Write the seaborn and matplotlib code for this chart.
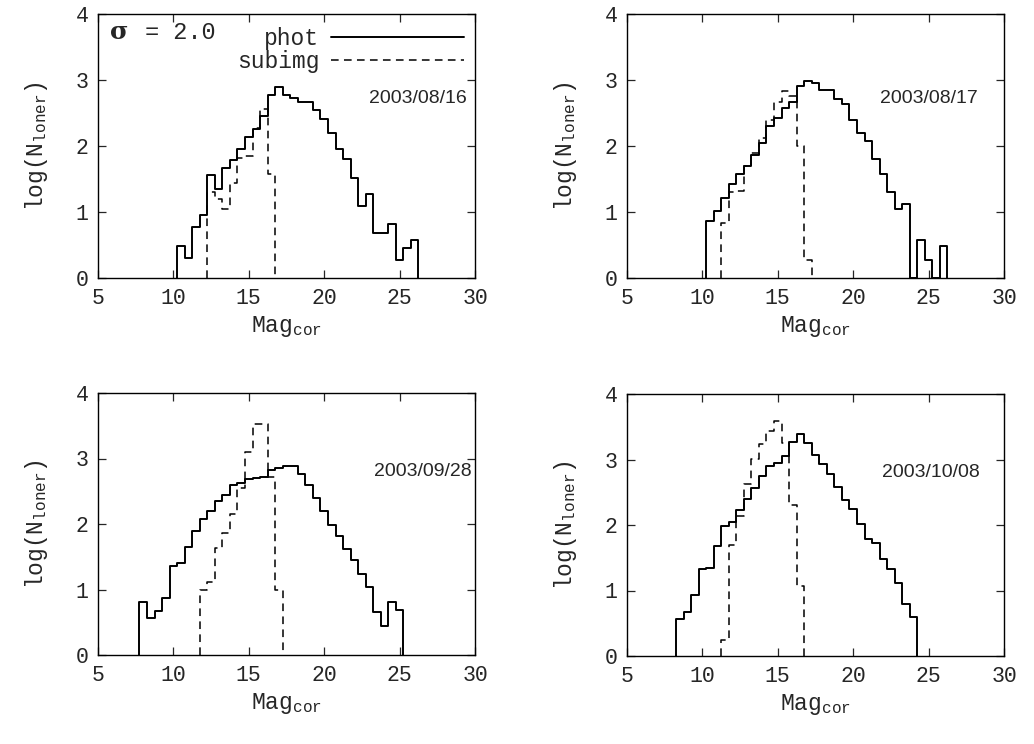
import matplotlib
matplotlib.use("Agg")
import matplotlib.pyplot as plt
import numpy as np
import pandas as pd
import seaborn as sns

BIN = 0.5

# left edge of the first bin and bin heights, log(N_loner), for each night
p1_phot_start = 10.25
p1_phot = [0.49, 0.30, 0.78, 0.95, 1.56, 1.35, 1.66, 1.79, 1.95, 2.14, 2.26, 2.45,
           2.78, 2.89, 2.78, 2.72, 2.66, 2.67, 2.54, 2.41, 2.20, 1.95, 1.81, 1.52,
           1.09, 1.27, 0.68, 0.68, 0.82, 0.28, 0.46, 0.58]
p1_sub_start = 12.25
p1_sub = [1.30, 1.20, 1.05, 1.44, 1.82, 1.85, 2.28, 2.56, 1.57]

p2_phot_start = 10.25
p2_phot = [0.87, 1.01, 1.21, 1.43, 1.57, 1.70, 1.87, 2.05, 2.30, 2.43, 2.58, 2.66,
           2.91, 2.99, 2.95, 2.85, 2.85, 2.71, 2.63, 2.39, 2.20, 2.07, 1.81, 1.58,
           1.31, 1.04, 1.12, 0.0, 0.58, 0.27, 0.0, 0.48]
p2_sub_start = 11.25
p2_sub = [0.83, 1.31, 1.32, 1.70, 1.90, 2.12, 2.40, 2.66, 2.84, 2.76, 2.00, 0.28]

p3_phot_start = 7.75
p3_phot = [0.81, 0.57, 0.67, 0.87, 1.36, 1.41, 1.65, 1.90, 2.07, 2.20, 2.35, 2.45,
           2.59, 2.63, 2.68, 2.70, 2.72, 2.82, 2.86, 2.88, 2.88, 2.76, 2.60, 2.40,
           2.20, 1.99, 1.82, 1.62, 1.45, 1.24, 1.04, 0.66, 0.45, 0.81, 0.68]
p3_sub_start = 11.75
p3_sub = [1.00, 1.12, 1.63, 1.86, 2.15, 2.55, 3.10, 3.52, 3.52, 2.72, 1.00]

p4_phot_start = 8.25
p4_phot = [0.57, 0.67, 0.93, 1.33, 1.35, 1.68, 1.98, 2.04, 2.23, 2.40, 2.57, 2.75,
           2.90, 2.94, 3.05, 3.27, 3.39, 3.25, 3.07, 2.93, 2.78, 2.58, 2.38, 2.25,
           2.01, 1.78, 1.72, 1.48, 1.33, 1.11, 0.79, 0.59]
p4_sub_start = 11.25
p4_sub = [0.25, 1.70, 2.14, 2.62, 3.01, 3.23, 3.44, 3.59, 3.25, 2.30, 1.07]

dates = ["2003/08/16", "2003/08/17", "2003/09/28", "2003/10/08"]
date_x = [23.0, 21.8, 23.3, 21.9]
date_y = [2.72, 2.72, 2.80, 2.80]

x_ticks = [5, 10, 15, 20, 25, 30]
y_ticks = [0, 1, 2, 3, 4]


def step_frame(start, heights):
    # outline of a histogram that starts and ends at zero
    edges = start + BIN * np.arange(len(heights) + 1)
    x = np.concatenate([[edges[0]], edges])
    y = np.concatenate([[0.0], heights, [0.0]])
    return pd.DataFrame({"mag": x, "logn": y})


sns.set_style("ticks")
plt.rcParams["font.family"] = ["Liberation Mono", "DejaVu Sans Mono"]
plt.rcParams["mathtext.fontset"] = "custom"
plt.rcParams["mathtext.rm"] = "Liberation Mono"
plt.rcParams["mathtext.it"] = "Liberation Mono"
plt.rcParams["xtick.direction"] = "in"
plt.rcParams["ytick.direction"] = "in"

fig = plt.figure(figsize=(10.34, 7.44), dpi=100)
W, H = 1034.0, 744.0
boxes = [(98, 14, 475, 278), (627, 14, 1004, 278),
         (98, 393, 475, 655), (627, 394, 1004, 656)]

panels = [
    (p1_phot_start, p1_phot, p1_sub_start, p1_sub),
    (p2_phot_start, p2_phot, p2_sub_start, p2_sub),
    (p3_phot_start, p3_phot, p3_sub_start, p3_sub),
    (p4_phot_start, p4_phot, p4_sub_start, p4_sub),
]

for i, (box, (ps, ph, ss, sb)) in enumerate(zip(boxes, panels)):
    l, t, r, b = box
    ax = fig.add_axes([l / W, 1 - b / H, (r - l) / W, (b - t) / H])

    sns.lineplot(data=step_frame(ps, ph), x="mag", y="logn", ax=ax,
                 drawstyle="steps-post", estimator=None, sort=False,
                 color="black", linewidth=1.4, label="phot")
    sns.lineplot(data=step_frame(ss, sb), x="mag", y="logn", ax=ax,
                 drawstyle="steps-post", estimator=None, sort=False,
                 color="black", linewidth=1.1, label="subimg")
    ax.lines[-1].set_dashes((5, 3.5))

    ax.set_xlim(5, 30)
    ax.set_ylim(0, 4)
    ax.set_xticks(x_ticks)
    ax.set_yticks(y_ticks)
    ax.tick_params(axis="both", which="major", labelsize=15.5, length=6, width=0.9,
                   top=True, right=True, pad=7)
    for spine in ax.spines.values():
        spine.set_visible(True)
        spine.set_linewidth(1.0)
        spine.set_color("black")

    ax.set_xlabel(r"Mag$_{\rm cor}$", fontsize=16.5, labelpad=4)
    ax.set_ylabel(r"log(N$_{\rm loner}$)", fontsize=16.5, labelpad=18)

    ax.text(date_x[i], date_y[i], dates[i], fontsize=14,
            family=["Liberation Sans Narrow", "Liberation Sans", "DejaVu Sans"],
            va="center", ha="left")

    if i == 0:
        ax.legend(loc="upper right", bbox_to_anchor=(1.0, 0.995), frameon=False,
                  markerfirst=False, handlelength=5.8, handletextpad=0.5,
                  labelspacing=0.0, borderaxespad=0.1, fontsize=16.5)
        ax.text(5.8, 3.72, "σ", fontsize=18, fontweight="bold", va="center",
                ha="left", family=["DejaVu Serif", "Liberation Mono"])
        ax.text(8.1, 3.72, "= 2.0", fontsize=17, va="center", ha="left")
    else:
        ax.get_legend().remove()

fig.savefig("out.png", dpi=100, facecolor="white")
